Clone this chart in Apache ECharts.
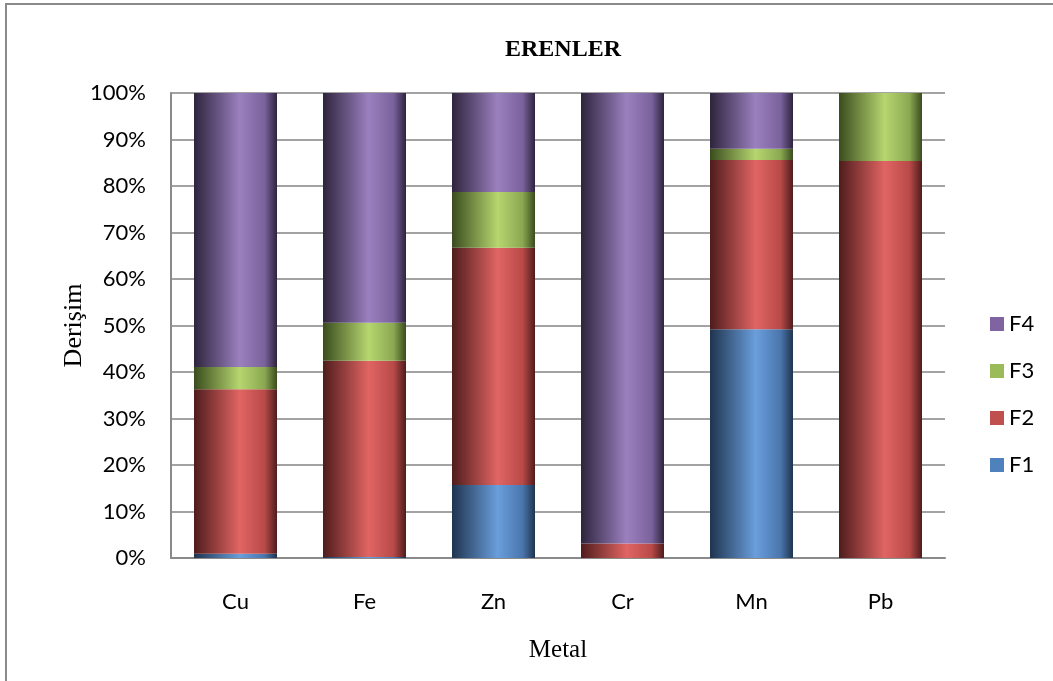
<!DOCTYPE html>
<html>
<head>
<meta charset="utf-8">
<script src="https://cdn.jsdelivr.net/npm/echarts@6/dist/echarts.min.js"></script>
<style>
  html, body { margin: 0; padding: 0; background: #ffffff; }
  #chart { width: 1053px; height: 681px; }
</style>
</head>
<body>
<div id="chart"></div>
<script>
// Metal fractions (% of total concentration), ERENLER site
const metals = ['Cu', 'Fe', 'Zn', 'Cr', 'Mn', 'Pb'];
const f1 = [0.9, 0.2, 15.7, 0, 49.2, 0];
const f2 = [35.4, 42.2, 51.0, 3.1, 36.4, 85.4];
const f3 = [4.8, 8.2, 12.0, 0, 2.4, 14.6];
const f4 = [58.9, 49.4, 21.3, 96.9, 12.0, 0];
const yTicks = [0, 10, 20, 30, 40, 50, 60, 70, 80, 90, 100];

// Cylinder-style horizontal shading for each fraction
function cylinder(dark, light, edge) {
  return new echarts.graphic.LinearGradient(0, 0, 1, 0, [
    { offset: 0, color: dark },
    { offset: 0.55, color: light },
    { offset: 0.85, color: edge },
    { offset: 1, color: dark }
  ]);
}

const palette = {
  F1: { flat: '#4f81bd', fill: cylinder('#1f344f', '#6a9edc', '#4a76ad') },
  F2: { flat: '#c0504d', fill: cylinder('#4f1c1c', '#e06563', '#b84a48') },
  F3: { flat: '#9bbb59', fill: cylinder('#3a4c1e', '#b6d66f', '#8aa851') },
  F4: { flat: '#8064a2', fill: cylinder('#2e243d', '#9b80bf', '#7a629c') }
};

function makeSeries(name, values) {
  return {
    name: name,
    type: 'bar',
    stack: 'total',
    barWidth: 83,
    data: values,
    itemStyle: { color: palette[name].fill },
    emphasis: { disabled: true }
  };
}

const legendOrder = ['F4', 'F3', 'F2', 'F1'];

const chart = echarts.init(document.getElementById('chart'), null, { renderer: 'canvas' });

chart.setOption({
  animation: false,
  backgroundColor: '#ffffff',
  title: {
    text: 'ERENLER',
    left: 558,
    top: 33,
    textAlign: 'center',
    textStyle: {
      fontFamily: 'Liberation Serif',
      fontWeight: 'bold',
      fontSize: 24,
      color: '#000'
    }
  },
  legend: {
    orient: 'vertical',
    left: 985,
    top: 308,
    itemWidth: 14,
    itemHeight: 14,
    itemGap: 25,
    icon: 'rect',
    data: legendOrder.map(function (n) {
      return { name: n, itemStyle: { color: palette[n].flat } };
    }),
    textStyle: { fontFamily: 'Lato', fontSize: 22, color: '#000', padding: [0, 0, 0, 0] }
  },
  grid: { left: 171, right: 108, top: 93, bottom: 123 },
  xAxis: {
    type: 'category',
    data: metals,
    name: 'Metal',
    nameLocation: 'middle',
    nameGap: 80,
    nameMoveOverlap: false,
    nameTextStyle: { fontFamily: 'Liberation Serif', fontSize: 25, color: '#000' },
    axisLine: { lineStyle: { color: '#8a8a8a', width: 2 } },
    axisTick: { show: false },
    axisLabel: { margin: 33, fontFamily: 'Lato', fontSize: 22, color: '#000' }
  },
  yAxis: {
    type: 'value',
    min: yTicks[0],
    max: yTicks[yTicks.length - 1],
    interval: yTicks[1] - yTicks[0],
    name: 'Derişim',
    nameLocation: 'middle',
    nameGap: 84,
    nameMoveOverlap: false,
    nameRotate: 90,
    nameTextStyle: { fontFamily: 'Liberation Serif', fontSize: 26, color: '#000' },
    axisLine: { show: true, lineStyle: { color: '#8a8a8a', width: 2 } },
    axisTick: { show: false },
    splitLine: { lineStyle: { color: '#a3a3a3', width: 2 } },
    axisLabel: {
      margin: 25,
      fontFamily: 'Lato',
      fontSize: 22,
      color: '#000',
      formatter: '{value}%'
    }
  },
  graphic: [
    {
      type: 'polyline',
      silent: true,
      shape: { points: [[6, 681], [6, 4], [1053, 4]] },
      style: { stroke: '#8a8a8a', lineWidth: 2, fill: null }
    }
  ],
  series: [
    makeSeries('F1', f1),
    makeSeries('F2', f2),
    makeSeries('F3', f3),
    makeSeries('F4', f4)
  ]
});
</script>
</body>
</html>
